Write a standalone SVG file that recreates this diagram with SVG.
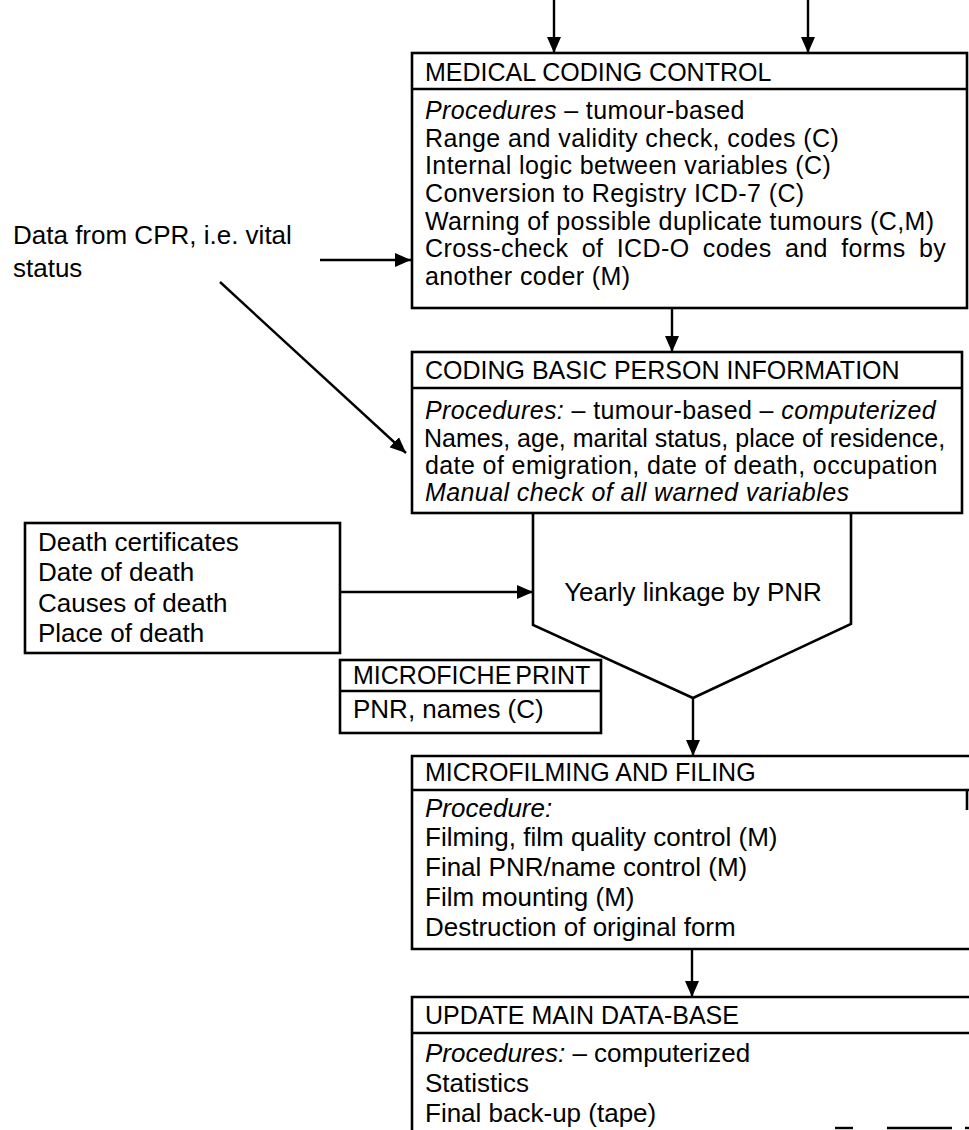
<svg xmlns="http://www.w3.org/2000/svg" width="969" height="1130" viewBox="0 0 969 1130">
<defs>
<style>
.box{fill:none;stroke:#000;stroke-width:2.6}
.ln{fill:none;stroke:#000;stroke-width:2.4}
.t{font-family:"Liberation Sans",Arial,Helvetica,sans-serif;font-size:26px;fill:#000}
.s{font-family:"Liberation Sans",Arial,Helvetica,sans-serif;font-size:25px;letter-spacing:0.4px;fill:#000}
.h{font-family:"Liberation Sans",Arial,Helvetica,sans-serif;font-size:25px;fill:#000}
.i{font-style:italic}
</style>
<marker id="ah" markerUnits="userSpaceOnUse" markerWidth="16" markerHeight="14" refX="16" refY="7" orient="auto">
<path d="M0,0 L16,7 L0,14 z" fill="#000"/>
</marker>
</defs>
<rect width="969" height="1130" fill="#fff"/>

<g id="connectors">
<line class="ln" x1="554" y1="0" x2="554" y2="53" marker-end="url(#ah)"/>
<line class="ln" x1="808" y1="0" x2="808" y2="53" marker-end="url(#ah)"/>
<line class="ln" x1="320" y1="260" x2="411" y2="260" marker-end="url(#ah)"/>
<line class="ln" x1="220" y1="282" x2="406" y2="453" marker-end="url(#ah)"/>
<line class="ln" x1="672" y1="308" x2="672" y2="352" marker-end="url(#ah)"/>
<line class="ln" x1="340" y1="592" x2="533" y2="592" marker-end="url(#ah)"/>
<line class="ln" x1="693" y1="698" x2="693" y2="756" marker-end="url(#ah)"/>
<line class="ln" x1="692" y1="949" x2="692" y2="997" marker-end="url(#ah)"/>
</g>

<g id="cpr-data">
<text class="t" x="13" y="244">Data from CPR, i.e. vital</text>
<text class="t" x="13" y="277">status</text>
</g>

<g id="medical-coding-control">
<rect class="box" x="412" y="53" width="555" height="255"/>
<line class="box" x1="412" y1="89" x2="967" y2="89"/>
<text class="h" x="425" y="81">MEDICAL CODING CONTROL</text>
<text class="s" x="425" y="119"><tspan class="i">Procedures</tspan> – tumour-based</text>
<text class="s" x="425" y="147">Range and validity check, codes (C)</text>
<text class="s" x="425" y="174">Internal logic between variables (C)</text>
<text class="s" x="425" y="202">Conversion to Registry ICD-7 (C)</text>
<text class="s" x="425" y="230">Warning of possible duplicate tumours (C,M)</text>
<text class="s" x="425" y="257" word-spacing="6">Cross-check of ICD-O codes and forms by</text>
<text class="s" x="425" y="285">another coder (M)</text>
</g>

<g id="coding-basic-person-information">
<rect class="box" x="412" y="352" width="550" height="161"/>
<line class="box" x1="412" y1="388" x2="962" y2="388"/>
<text class="h" x="425" y="379">CODING BASIC PERSON INFORMATION</text>
<text class="s" x="425" y="419"><tspan class="i">Procedures:</tspan> – tumour-based – <tspan class="i">computerized</tspan></text>
<text class="h" x="424" y="447">Names, age, marital status, place of residence,</text>
<text class="s" x="425" y="474">date of emigration, date of death, occupation</text>
<text class="s i" x="425" y="501">Manual check of all warned variables</text>
</g>

<g id="death-certificates">
<rect class="box" x="25" y="523" width="315" height="130"/>
<text class="t" x="38" y="551">Death certificates</text>
<text class="t" x="38" y="581">Date of death</text>
<text class="t" x="38" y="612">Causes of death</text>
<text class="t" x="38" y="642">Place of death</text>
</g>

<g id="yearly-linkage">
<path class="box" d="M533,513 L533,625 L693,698 L851,624 L851,513"/>
<text class="t" x="693" y="601" text-anchor="middle">Yearly linkage by PNR</text>
</g>

<g id="microfiche-print">
<rect class="box" x="340" y="660" width="261" height="73"/>
<line class="box" x1="340" y1="691" x2="601" y2="691"/>
<text class="h" x="353" y="684" word-spacing="-3">MICROFICHE PRINT</text>
<text class="t" x="353" y="718">PNR, names (C)</text>
</g>

<g id="microfilming-and-filing">
<path class="box" d="M969,756 L412,756 L412,949 L969,949"/>
<line class="box" x1="412" y1="790" x2="969" y2="790"/>
<line class="box" x1="967" y1="790" x2="967" y2="810"/>
<text class="h" x="425" y="781">MICROFILMING AND FILING</text>
<text class="t i" x="425" y="817">Procedure:</text>
<text class="t" x="425" y="846">Filming, film quality control (M)</text>
<text class="t" x="425" y="876">Final PNR/name control (M)</text>
<text class="t" x="425" y="906">Film mounting (M)</text>
<text class="t" x="425" y="936">Destruction of original form</text>
</g>

<g id="update-main-database">
<path class="box" d="M969,997 L412,997 L412,1130"/>
<line class="box" x1="412" y1="1033" x2="969" y2="1033"/>
<text class="h" x="425" y="1024">UPDATE MAIN DATA-BASE</text>
<text class="t" x="425" y="1062"><tspan class="i">Procedures:</tspan> – computerized</text>
<text class="t" x="425" y="1092">Statistics</text>
<text class="t" x="425" y="1122">Final back-up (tape)</text>
<line class="ln" x1="835" y1="1128" x2="853" y2="1128"/>
<line class="ln" x1="887" y1="1128" x2="952" y2="1128"/>
<line class="ln" x1="965" y1="1128" x2="969" y2="1128"/>
</g>
</svg>
